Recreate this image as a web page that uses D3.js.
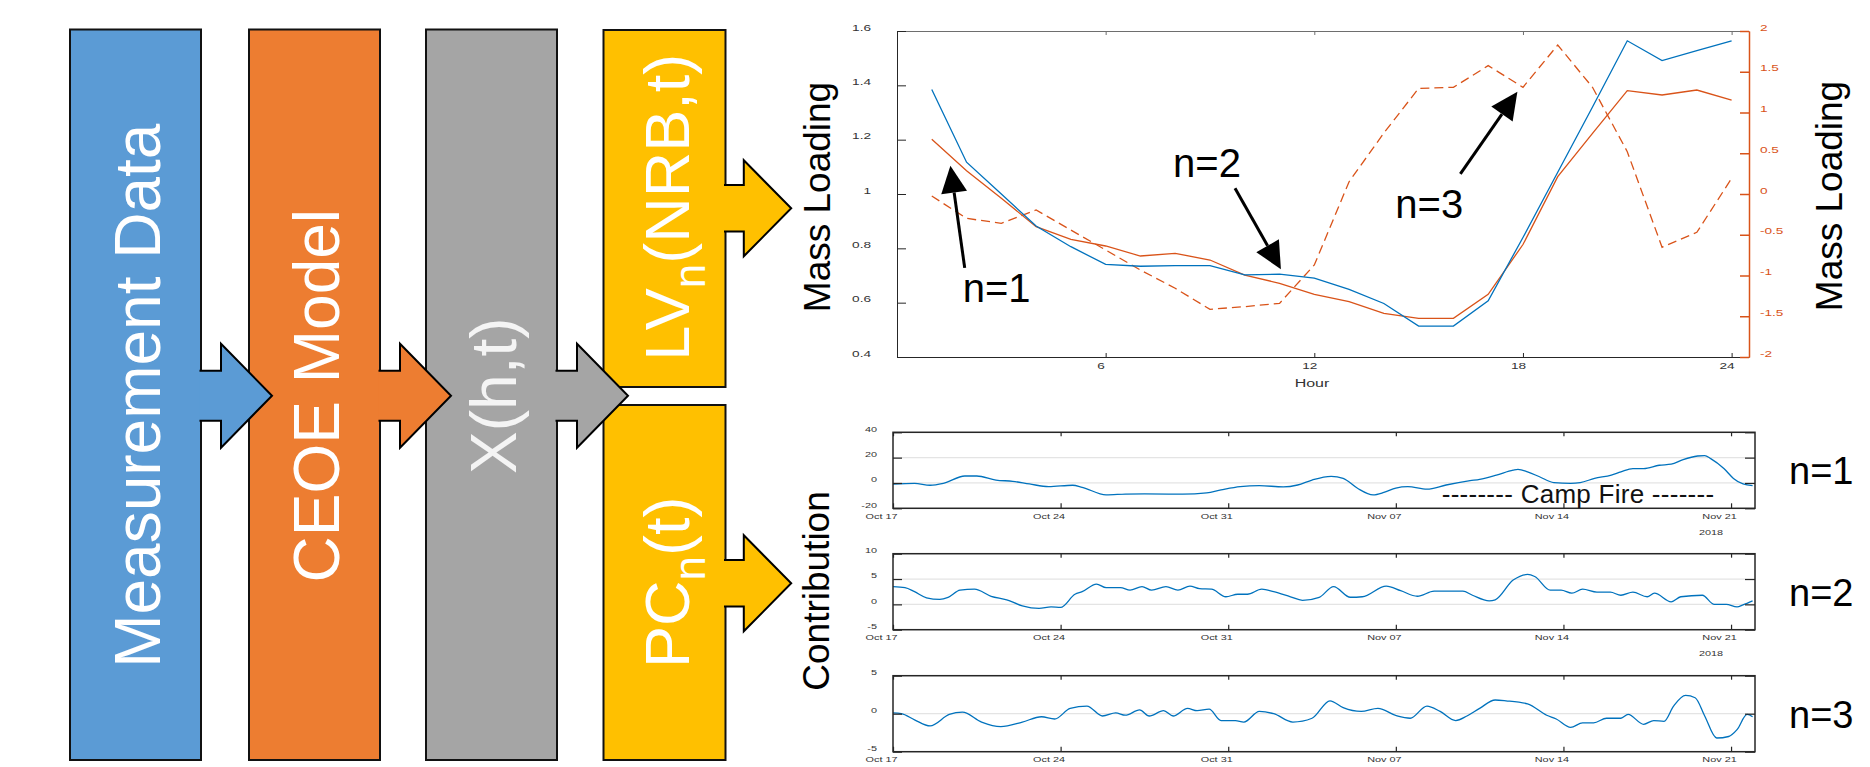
<!DOCTYPE html>
<html lang="en">
<head>
<meta charset="UTF-8">
<title>CEOE decomposition</title>
<script src="https://d3js.org/d3.v7.min.js"></script>
<style>
    body { margin: 0; background: #fff; }
    svg { display: block; font-family: "Liberation Sans", Arial, sans-serif; }
</style>
</head>
<body>
<svg id="fig" width="1870" height="767"></svg>
<script>
// ---------- data ----------
const flowLabels = ["Measurement Data", "CEOE Model", "X(h,t)"];
const flowColors = ["#5b9bd5", "#ed7d31", "#a5a5a5"];
const outLabels = [["LV", "n", "(NRB,t)"], ["PC", "n", "(t)"]];
const outColor = "#ffc000";

// loading vectors (top chart)
const hours = [1, 2, 3, 4, 5, 6, 7, 8, 9, 10, 11, 12, 13, 14, 15, 16, 17, 18, 19, 20, 21, 22, 23, 24];
const lvBlue = [1.385, 1.117, 1.0, 0.882, 0.806, 0.741, 0.734, 0.736, 0.736, 0.702, 0.705, 0.69,
                0.649, 0.597, 0.514, 0.514, 0.607, 0.84, 1.08, 1.32, 1.564, 1.491, 1.528, 1.564];
const lvOrange = [0.671, 0.286, -0.053, -0.401, -0.556, -0.638, -0.761, -0.728, -0.81, -0.994, -1.096, -1.231,
                  -1.321, -1.464, -1.526, -1.526, -1.231, -0.62, 0.213, 0.744, 1.268, 1.215, 1.276, 1.153];
const lvDashed = [-0.025, -0.299, -0.36, -0.196, -0.442, -0.687, -0.933, -1.157, -1.415, -1.382, -1.342, -0.871,
                  0.151, 0.748, 1.296, 1.309, 1.575, 1.309, 1.828, 1.309, 0.519, -0.654, -0.47, 0.192];
const hourTicks = [6, 12, 18, 24];
const leftTicks = [0.4, 0.6, 0.8, 1, 1.2, 1.4, 1.6];
const rightTicks = [-2, -1.5, -1, -0.5, 0, 0.5, 1, 1.5, 2];

// principal component scores (bottom charts), days after Oct 17 2018
const pc1Days = [0, 0.9, 1.55, 2.1, 3.0, 3.5, 4.3, 5.0, 5.7, 6.5, 7.5, 7.9, 8.9, 9.7, 10.5, 12.1, 13.1, 13.7, 14.5, 15.3,
                 16.3, 16.9, 17.5, 18.3, 18.8, 19.4, 20.05, 20.5, 21.0, 21.5, 22.3, 23.1, 24.1, 24.5, 25.2, 25.9, 26.1,
                 26.5, 27.0, 27.6, 28.3, 28.7, 29.3, 30.0, 30.4, 30.9, 31.35, 32.0, 32.5, 33.0, 33.6, 33.9, 34.15,
                 34.7, 35.1, 35.5, 35.9];
const pc1Values = [-0.8, -0.3, -1.8, -0.3, 5.5, 5.5, 2.3, 1.3, -0.8, -2.9, -1.8, -3.4, -9.4, -8.8, -8.6, -8.8, -7.8, -5.5, -2.9, -2.1,
                   -3.1, -1.6, 2.3, 5.2, 3.6, -4.2, -9.4, -7.5, -4.0, -2.9, -4.9, -1.6, 1.8, 2.9, 6.2, 10.1, 10.7,
                   8.8, 4.9, 0.3, -0.3, 0.3, 3.6, 6.2, 8.8, 11.4, 11.4, 14.0, 14.8, 18.5, 21.3, 21.6, 19.2,
                   11.4, 3.6, -0.8, -2.1];
const pc2Days = [0, 0.5, 0.9, 1.4, 1.95, 2.3, 2.8, 3.4, 4.1, 4.75, 5.4, 6.1, 6.6, 7.0, 7.6, 7.9, 8.5, 8.9, 9.5, 9.9,
                 10.4, 10.8, 11.4, 11.9, 12.4, 12.8, 13.3, 13.9, 14.4, 14.8, 15.4, 15.9, 16.6, 17.1, 17.8, 18.4, 19.1,
                 19.6, 20.6, 21.2, 21.9, 22.6, 23.8, 24.2, 24.9, 25.15, 25.9, 26.5, 26.8, 27.45, 27.9, 28.35, 28.8,
                 29.4, 29.96, 30.4, 30.9, 31.5, 31.8, 32.5, 32.9, 33.8, 34.3, 34.8, 35.25, 35.5, 35.9];
const pc2Values = [3.5, 3.3, 2.5, 1.3, 1.0, 1.4, 2.8, 3.0, 1.6, 0.9, -0.3, -0.8, -0.5, -0.6, 2.0, 2.5, 4.0, 3.3, 3.3, 2.8,
                   3.5, 2.8, 3.5, 2.8, 3.6, 3.1, 3.0, 1.5, 2.0, 2.0, 3.0, 2.5, 1.5, 0.8, 1.4, 3.5, 1.4,
                   1.5, 3.6, 2.7, 1.6, 2.6, 2.6, 1.8, 0.7, 0.9, 4.8, 5.9, 5.5, 2.8, 2.8, 2.2, 3.0,
                   2.4, 2.4, 1.8, 2.4, 1.5, 2.2, 0.5, 1.5, 1.8, 0.0, 0.0, -0.5, -0.1, 0.7];
const pc3Days = [0, 0.35, 0.9, 1.55, 2.35, 2.9, 3.7, 4.5, 5.4, 6.2, 6.75, 7.4, 8.1, 8.75, 9.3, 9.7, 10.3, 10.7, 11.3, 11.7,
                 12.3, 12.7, 13.2, 13.7, 14.3, 14.65, 15.3, 15.9, 16.7, 17.5, 18.25, 18.8, 19.55, 20.25, 21.05, 21.6,
                 22.3, 22.85, 23.5, 23.97, 24.5, 25.15, 25.6, 26.5, 27.3, 27.7, 28.3, 28.8, 29.26, 29.8, 30.4, 30.7,
                 31.35, 31.77, 32.2, 32.6, 33.1, 33.5, 33.9, 34.4, 34.9, 35.25, 35.67, 35.9];
const pc3Values = [0.1, 0, -0.8, -1.6, -0.1, 0.2, -1.1, -1.7, -1.1, -0.4, -0.7, 0.7, 1.0, -0.3, 0.1, -0.2, 0.5, -0.3, 0.4, -0.3,
                   0.7, 0.4, 0.6, -0.9, -0.9, -1.1, 0.3, 0, -1.1, -0.6, 1.7, 0.8, 0.3, 0.7, -0.3, -0.6,
                   1.0, 0.3, -0.9, -0.3, 0.7, 1.8, 1.7, 1.3, -0.2, -0.7, -1.8, -1.2, -1.2, -0.6, -0.6, -0.1,
                   -1.4, -0.9, -1.0, 1.0, 2.4, 2.1, -0.3, -3.2, -3.0, -2.1, -0.1, -0.4];
const pcDays = [pc1Days, pc2Days, pc3Days];
const pcValues = [pc1Values, pc2Values, pc3Values];
const pcDomains = [[-20, 40], [-5, 10], [-5, 5]];
const pcTicks = [[-20, 0, 20, 40], [-5, 0, 5, 10], [-5, 0, 5]];
const pcNames = ["n=1", "n=2", "n=3"];
const dateTicks = ["2018-10-17", "2018-10-24", "2018-10-31", "2018-11-07", "2018-11-14", "2018-11-21"];
const campFire = ["2018-11-08T22:00", "2018-11-20T07:00"];

const blue = "#0072bd", orange = "#d95319", axisCol = "#262626", labelCol = "#333";
const svg = d3.select("#fig");

// ---------- flow diagram ----------
const flowX = [70, 249, 426], flowW = 131, flowTop = 29.5, flowBottom = 760, flowCy = 395.7;
const outX = 603.5, outW = 122, outRows = [[30, 387, 208.3], [405, 760, 583.3]];

function blockArrow(R, cy, stem, head, base, tip, fill) {
    const p = d3.path();
    p.moveTo(R - 1.5, cy - stem);
    p.lineTo(R + base, cy - stem);
    p.lineTo(R + base, cy - head);
    p.lineTo(R + tip, cy);
    p.lineTo(R + base, cy + head);
    p.lineTo(R + base, cy + stem);
    p.lineTo(R - 1.5, cy + stem);
    svg.append("path").attr("d", p.toString())
        .attr("fill", fill).attr("stroke", "#000").attr("stroke-width", 2);
}

flowX.forEach((x, i) => {
    svg.append("rect").attr("x", x).attr("y", flowTop).attr("width", flowW)
        .attr("height", flowBottom - flowTop).attr("fill", flowColors[i])
        .attr("stroke", "#111").attr("stroke-width", 2);
});
outRows.forEach(r => {
    svg.append("rect").attr("x", outX).attr("y", r[0]).attr("width", outW)
        .attr("height", r[1] - r[0]).attr("fill", outColor)
        .attr("stroke", "#111").attr("stroke-width", 2);
});
flowX.forEach((x, i) => blockArrow(x + flowW, flowCy, 25, 52, 20, 71, flowColors[i]));
outRows.forEach(r => blockArrow(outX + outW, r[2], 23.3, 48, 18.3, 65.7, outColor));

flowX.forEach((x, i) => {
    svg.append("text")
        .attr("transform", `translate(${x + 90},${flowCy}) rotate(-90)`)
        .attr("text-anchor", "middle").attr("font-size", 64)
        .attr("fill", i === 2 ? "#f4f4f4" : "#fff")
        .text(flowLabels[i]);
});
outRows.forEach((r, i) => {
    const t = svg.append("text")
        .attr("transform", `translate(${outX + 85},${r[2] - 1}) rotate(-90)`)
        .attr("text-anchor", "middle").attr("font-size", 63).attr("fill", "#fff");
    t.append("tspan").text(outLabels[i][0]);
    t.append("tspan").attr("dy", 16).attr("font-size", 44).text(outLabels[i][1]);
    t.append("tspan").attr("dy", -16).text(outLabels[i][2]);
});

// ---------- helpers ----------
function styleTicks(g, size, sx, y) {
    g.attr("font-size", null).attr("font-family", null);
    g.selectAll(".tick text").each(function () {
        const t = d3.select(this);
        const x = +t.attr("x") || 0;
        t.attr("x", x / sx).attr("transform", `scale(${sx},1)`)
            .attr("font-size", size).attr("fill", labelCol);
        if (y !== undefined) t.attr("y", y);
    });
}

function sideLabel(x, cy, txt) {
    svg.append("text").attr("transform", `translate(${x},${cy}) rotate(-90)`)
        .attr("text-anchor", "middle").attr("font-size", 37).attr("fill", "#000").text(txt);
}

// ---------- top chart: loading vectors ----------
const tL = 897, tR = 1749, tT = 31, tB = 357;
const tx = d3.scaleLinear().domain([0, 24.5]).range([tL, tR]);
const tyL = d3.scaleLinear().domain([0.4, 1.6]).range([tB, tT]);
const tyR = d3.scaleLinear().domain([-2, 2]).range([tB, tT]);

const gTop = svg.append("g").attr("transform", `translate(0,${tT})`)
    .call(d3.axisTop(tx).tickValues(hourTicks).tickSize(-4).tickSizeOuter(0).tickFormat(""));
gTop.selectAll("path,line").attr("stroke", "#6e6e6e");

const gBot = svg.append("g").attr("transform", `translate(0,${tB})`)
    .call(d3.axisBottom(tx).tickValues(hourTicks).tickSize(-4).tickSizeOuter(0).tickPadding(5.5));
gBot.selectAll("path,line").attr("stroke", axisCol);
gBot.selectAll(".tick text").attr("x", -5);
styleTicks(gBot, 9.4, 1.45);

const gLeft = svg.append("g").attr("transform", `translate(${tL},0)`)
    .call(d3.axisLeft(tyL).tickValues(leftTicks).tickSize(-9).tickSizeOuter(0).tickPadding(26).tickFormat(d => String(d)));
gLeft.selectAll("path,line").attr("stroke", axisCol);
styleTicks(gLeft, 9.4, 1.45, -4);

const gRight = svg.append("g").attr("transform", `translate(${tR},0)`)
    .call(d3.axisRight(tyR).tickValues(rightTicks).tickSize(-9).tickSizeOuter(0).tickPadding(11).tickFormat(d => String(d)));
gRight.selectAll("path,line").attr("stroke", orange).attr("stroke-width", 1.5);
styleTicks(gRight, 9.4, 1.45, -4);
gRight.selectAll(".tick text").attr("fill", orange);

svg.append("text").attr("x", 1312 / 1.6).attr("y", 387).attr("transform", "scale(1.6,1)")
    .attr("text-anchor", "middle").attr("font-size", 10).attr("fill", labelCol).text("Hour");

sideLabel(830, 197, "Mass Loading");
sideLabel(1842, 196, "Mass Loading");

const lineL = d3.line().x(d => tx(d[0])).y(d => tyL(d[1]));
const lineR = d3.line().x(d => tx(d[0])).y(d => tyR(d[1]));
svg.append("path").attr("d", lineR(d3.zip(hours, lvDashed))).attr("fill", "none")
    .attr("stroke", orange).attr("stroke-width", 1.3).attr("stroke-dasharray", "9,5");
svg.append("path").attr("d", lineR(d3.zip(hours, lvOrange))).attr("fill", "none")
    .attr("stroke", orange).attr("stroke-width", 1.3);
svg.append("path").attr("d", lineL(d3.zip(hours, lvBlue))).attr("fill", "none")
    .attr("stroke", blue).attr("stroke-width", 1.3);

// annotations (hour, left-axis value)
const lvNotes = [
    { label: "n=1", at: [1.89, 0.602], from: [1.947, 0.728], to: [1.535, 1.104] },
    { label: "n=2", at: [7.94, 1.064], from: [9.72, 1.021], to: [11.04, 0.723] },
    { label: "n=3", at: [14.33, 0.912], from: [16.2, 1.074], to: [17.84, 1.376] }
];
lvNotes.forEach(n => {
    const x0 = tx(n.from[0]), y0 = tyL(n.from[1]), x1 = tx(n.to[0]), y1 = tyL(n.to[1]);
    const len = Math.hypot(x1 - x0, y1 - y0), ux = (x1 - x0) / len, uy = (y1 - y0) / len;
    const bx = x1 - 27 * ux, by = y1 - 27 * uy;
    svg.append("line").attr("x1", x0).attr("y1", y0).attr("x2", bx).attr("y2", by)
        .attr("stroke", "#000").attr("stroke-width", 3);
    svg.append("polygon")
        .attr("points", [[x1, y1], [bx - 13 * uy, by + 13 * ux], [bx + 13 * uy, by - 13 * ux]].map(p => p.join(",")).join(" "))
        .attr("fill", "#000");
    svg.append("text").attr("x", tx(n.at[0])).attr("y", tyL(n.at[1]))
        .attr("font-size", 40).attr("fill", "#000").text(n.label);
});

// ---------- bottom charts: principal components ----------
const bL = 893, bR = 1755, bH = 76, bTops = [432.3, 553.7, 675.7];
const t0 = Date.UTC(2018, 9, 17);
const bx = d3.scaleUtc().domain([new Date(t0), new Date(Date.UTC(2018, 10, 22))]).range([bL, bR]);
const tickDates = dateTicks.map(s => d3.utcParse("%Y-%m-%d")(s));
const dayToDate = d => new Date(t0 + d * 864e5);

sideLabel(829, 591, "Contribution");

bTops.forEach((top, i) => {
    const y = d3.scaleLinear().domain(pcDomains[i]).range([top + bH, top]);
    const g = svg.append("g");

    g.selectAll("line.grid").data(pcTicks[i]).join("line").attr("class", "grid")
        .attr("x1", bL).attr("x2", bR).attr("y1", d => y(d)).attr("y2", d => y(d))
        .attr("stroke", "#e4e4e4").attr("stroke-width", 1.2);

    const clipId = "clip" + i;
    svg.append("clipPath").attr("id", clipId).append("rect")
        .attr("x", bL).attr("y", top).attr("width", bR - bL).attr("height", bH);
    g.append("path")
        .attr("d", d3.line().curve(d3.curveMonotoneX).x(d => bx(dayToDate(d[0]))).y(d => y(d[1]))(d3.zip(pcDays[i], pcValues[i])))
        .attr("clip-path", `url(#${clipId})`)
        .attr("fill", "none").attr("stroke", blue).attr("stroke-width", 1.3);

    const ax = [
        g.append("g").attr("transform", `translate(0,${top + bH})`)
            .call(d3.axisBottom(bx).tickValues(tickDates).tickSize(-5).tickPadding(5.3).tickFormat(d3.utcFormat("%b %d"))),
        g.append("g").attr("transform", `translate(0,${top})`)
            .call(d3.axisTop(bx).tickValues(tickDates).tickSize(-4).tickFormat("")),
        g.append("g").attr("transform", `translate(${bL},0)`)
            .call(d3.axisLeft(y).tickValues(pcTicks[i]).tickSize(-9).tickPadding(16).tickFormat(d => String(d))),
        g.append("g").attr("transform", `translate(${bR},0)`)
            .call(d3.axisRight(y).tickValues(pcTicks[i]).tickSize(-10).tickFormat(""))
    ];
    ax.forEach(a => {
        a.select(".domain").remove();
        a.selectAll("line").attr("stroke", axisCol).attr("stroke-width", 1.2);
    });
    ax[0].selectAll(".tick text").attr("x", -12);
    styleTicks(ax[0], 7.5, 1.45);
    styleTicks(ax[2], 7.5, 1.45, -3.5);

    g.append("rect").attr("x", bL).attr("y", top).attr("width", bR - bL).attr("height", bH)
        .attr("fill", "none").attr("stroke", axisCol).attr("stroke-width", 1.5);

    // year label sits below the first two panels (the third one falls past the page edge)
    if (i < 2) {
        g.append("text").attr("x", (bx(tickDates[5]) - 20) / 1.45).attr("y", top + bH + 26.5)
            .attr("transform", "scale(1.45,1)").attr("text-anchor", "middle")
            .attr("font-size", 7.5).attr("fill", labelCol).text("2018");
    }

    g.append("text").attr("x", 1789).attr("y", top + 52)
        .attr("font-size", 38).attr("fill", "#000").text(pcNames[i]);

    if (i === 0) {
        const xs = bx(d3.isoParse(campFire[0])), xe = bx(d3.isoParse(campFire[1]));
        g.append("text").attr("x", xs).attr("y", y(-16))
            .attr("textLength", xe - xs).attr("lengthAdjust", "spacing")
            .attr("font-size", 26).attr("fill", "#111")
            .text("-------- Camp Fire -------");
    }
});
</script>
</body>
</html>
